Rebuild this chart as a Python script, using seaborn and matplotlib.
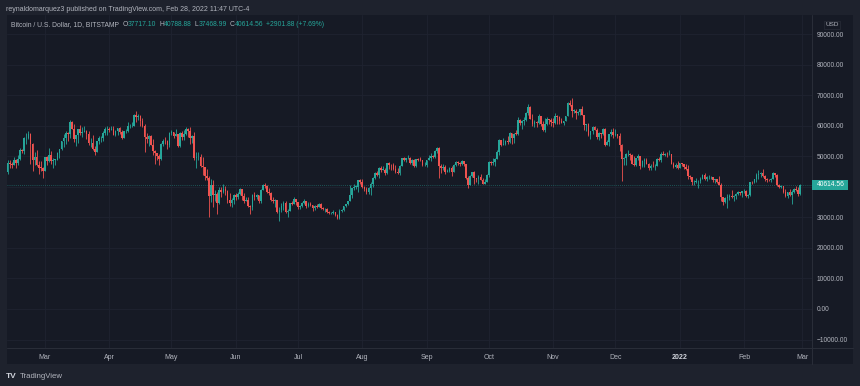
import numpy as np
import pandas as pd
import matplotlib
matplotlib.use("Agg")
import matplotlib.pyplot as plt
import matplotlib.dates as mdates
from matplotlib.patches import Rectangle
from matplotlib.lines import Line2D
import seaborn as sns

# daily candles, each row is (high, low, close); open is the previous close
feb21 = [(48600, 44100, 47900), (48900, 46300, 47400), (48200, 46200, 47200), (49700, 47000, 48600),
         (49000, 46300, 47900), (50500, 47100, 49100), (52600, 48900, 52100), (52500, 50900, 51600),
         (56300, 50700, 55900), (57500, 54000, 55900), (58300, 55500, 57400), (57500, 47600, 54100),
         (54200, 45000, 48900), (51300, 47100, 49700), (52000, 46700, 47000), (48300, 44100, 46300),
         (48300, 45000, 46200), (46600, 43000, 45100)]
mar21 = [(49800, 45000, 49600), (50200, 47000, 48400), (52600, 48100, 50400), (51800, 47500, 48400),
         (49400, 46300, 48800), (49200, 47100, 48900), (51400, 48800, 51000), (52400, 49300, 52300),
         (54900, 51900, 54900), (57400, 53000, 55900), (58100, 53900, 57500), (58000, 54900, 57200),
         (61700, 56100, 61200), (61400, 58900, 59000), (60600, 54600, 55600), (56900, 53400, 56900),
         (58900, 54200, 58900), (60100, 57000, 57700), (59500, 56300, 58000), (59900, 57800, 58100),
         (58500, 55500, 57400), (58400, 53700, 54200), (55800, 53100, 54300), (57100, 52000, 52300),
         (53200, 50400, 51300), (55100, 51300, 55000), (56600, 53900, 55800), (56500, 54700, 55800),
         (58400, 54900, 57600), (59400, 57000, 58800), (59800, 56800, 58800)]
apr21 = [(59500, 57900, 58700), (60000, 58500, 59000), (59800, 57000, 57100), (58500, 56500, 58200),
         (59300, 56800, 59100), (59500, 57400, 58000), (58700, 55500, 56000), (58200, 55900, 58100),
         (58900, 57700, 58100), (61200, 57900, 59800), (60700, 59300, 59900), (61200, 59400, 59900),
         (63800, 59900, 63600), (64900, 61300, 62900), (63800, 62000, 63200), (63500, 60000, 61400),
         (62500, 59700, 60000), (60400, 51500, 56200), (57600, 54200, 55700), (57000, 53500, 56500),
         (56800, 53600, 53800), (55500, 50500, 51700), (52100, 47500, 51200), (51200, 48700, 50100),
         (50600, 47000, 49100), (54400, 48800, 54000), (55500, 53300, 55000), (56400, 53900, 54900),
         (55200, 52400, 53600), (58000, 53000, 57700)]
may21 = [(58500, 57000, 57800), (57900, 56000, 56600), (58900, 56500, 57200), (57200, 53000, 53200),
         (57900, 52900, 57500), (58300, 55300, 56400), (58600, 55300, 57300), (59500, 56900, 58800),
         (59200, 56300, 58200), (59500, 54000, 55800), (56800, 54300, 56700), (58000, 48900, 49400),
         (51300, 46300, 49700), (51500, 48800, 49900), (50700, 46600, 46800), (49600, 43800, 46400),
         (46600, 42100, 43500), (45800, 42200, 42900), (43500, 30000, 37000), (42500, 35000, 40700),
         (42200, 33500, 37300), (38800, 35300, 37500), (38300, 31100, 34700), (39900, 34400, 38800),
         (39800, 36500, 38300), (40800, 37800, 39300), (40400, 37200, 38500), (38800, 34800, 35700),
         (37900, 33600, 34600), (36400, 33400, 35700), (37500, 34200, 37300)]
jun21 = [(37900, 35700, 36700), (38200, 35900, 37600), (39500, 37200, 39200), (39300, 35600, 36900),
         (37900, 34800, 35500), (36800, 35300, 35800), (36800, 33400, 33600), (34000, 31000, 33400),
         (37500, 32400, 37400), (38400, 35800, 36700), (37700, 35900, 37300), (37400, 34600, 35500),
         (39300, 34800, 39000), (41000, 38800, 40500), (41300, 39500, 40200), (40500, 38100, 38300),
         (39500, 37400, 38100), (38200, 35200, 35800), (36500, 34800, 35500), (36100, 33400, 35600),
         (35700, 31300, 31600), (33300, 28800, 32500), (34800, 31700, 33700), (35300, 32300, 34700),
         (35500, 31300, 31600), (32700, 30200, 32200), (34700, 32000, 34700), (35300, 33900, 34500),
         (36600, 34300, 35900), (36100, 34000, 35000)]
jul21 = [(35000, 32700, 33500), (33900, 32700, 33800), (34900, 33300, 34700), (35900, 34300, 35300),
         (35300, 33200, 33700), (35000, 33500, 34200), (35100, 33800, 33900), (33900, 32100, 32900),
         (34100, 32300, 33800), (34200, 33000, 33500), (34600, 33300, 34300), (34600, 32700, 33100),
         (33300, 32300, 32700), (33100, 31600, 32800), (33200, 31300, 31800), (32200, 31100, 31400),
         (31900, 31200, 31500), (32400, 31200, 31800), (31900, 30500, 30800), (31000, 29300, 29800),
         (32800, 29500, 32100), (32600, 31700, 32300), (33600, 32000, 33600), (34500, 33400, 34300),
         (35400, 33900, 35400), (40500, 35300, 37300), (39500, 36400, 39500), (40900, 38800, 40000),
         (40600, 39300, 40000), (42300, 38300, 42200), (42400, 41000, 41500)]
aug21 = [(42600, 39500, 39900), (40400, 38700, 39200), (39800, 37600, 38200), (39900, 37500, 39700),
         (41400, 37400, 40900), (43300, 39900, 42800), (44700, 42500, 44600), (45300, 43400, 43800),
         (46400, 42800, 46300), (46700, 44800, 45600), (46700, 45400, 45600), (46200, 43800, 44400),
         (47900, 44300, 47800), (48100, 45800, 47100), (47400, 45600, 47000), (47900, 45600, 45900),
         (47100, 44400, 44700), (46000, 44200, 44600), (47000, 43900, 46800), (49300, 46700, 49300),
         (49800, 48300, 48900), (49500, 48100, 49300), (50500, 49100, 49500), (49900, 47600, 47700),
         (49200, 47200, 48900), (49000, 46400, 46900), (49200, 46400, 49100), (49300, 48400, 48900),
         (49700, 48300, 48800), (48900, 46900, 47000), (48200, 46800, 47100)]
sep21 = [(48900, 46600, 48800), (50400, 48600, 49300), (51000, 48400, 50000), (50500, 49500, 49900),
         (51900, 49500, 51800), (52900, 50900, 52700), (52900, 43000, 46900), (47400, 44500, 46100),
         (47300, 45500, 46400), (47000, 44200, 44800), (45900, 44800, 45200), (46400, 44800, 46000),
         (46900, 43400, 44900), (47300, 44700, 47100), (48400, 46800, 48100), (48500, 47000, 47800),
         (48100, 46800, 47300), (48800, 47100, 48300), (48300, 46900, 47300), (47300, 42600, 43000),
         (43600, 39600, 40700), (44000, 40600, 43600), (44900, 43100, 44900), (45100, 40900, 42800),
         (42900, 41700, 42700), (43900, 40800, 43200), (44300, 42100, 42200), (42800, 40900, 41000),
         (42600, 40800, 41500), (44100, 41400, 43800)]
oct21 = [(48400, 43300, 48100), (48400, 47100, 47700), (49300, 47100, 48200), (49500, 46900, 49200),
         (51900, 49100, 51500), (55700, 50400, 55300), (55300, 53400, 53800), (56100, 53600, 53900),
         (55400, 53700, 54900), (56500, 54100, 54700), (57800, 54400, 57500), (57600, 53900, 56000),
         (57700, 54300, 57400), (58500, 56900, 57300), (62900, 56900, 61700), (62300, 60200, 60900),
         (61700, 58900, 61500), (62700, 60300, 62000), (64400, 61400, 64300), (67000, 63500, 66000),
         (66600, 62100, 62200), (63700, 60000, 60700), (61700, 59700, 61300), (61500, 59600, 60900),
         (63700, 60700, 63100), (63300, 59900, 60400), (61500, 58100, 58500), (62500, 57900, 60600),
         (62900, 60200, 62300), (62300, 60700, 61900), (62400, 59900, 61300)]
nov21 = [(62400, 59500, 61000), (64200, 60700, 63300), (63500, 60400, 62900), (63100, 60700, 61400),
         (62600, 60800, 61000), (61600, 60100, 61500), (63300, 61400, 63300), (67700, 63300, 67500),
         (68500, 66400, 66900), (69000, 63000, 64900), (65500, 64100, 64900), (65400, 62300, 64200),
         (64900, 63400, 64400), (65500, 63600, 65500), (66300, 63400, 63600), (63600, 58600, 60100),
         (60700, 58400, 60400), (60900, 56500, 56900), (58400, 55600, 58100), (59800, 57400, 59700),
         (60000, 58500, 58700), (59300, 55700, 56300), (57800, 55400, 57500), (57700, 55900, 57200),
         (59300, 57000, 58900), (59100, 53500, 53600), (55200, 53600, 54800), (57400, 53300, 57300),
         (58800, 56700, 57800), (59200, 56100, 57000)]
dec21 = [(59000, 56500, 57200), (57400, 55800, 56500), (57600, 51800, 53600), (53900, 42000, 49200),
         (49800, 47100, 49400), (51000, 47100, 50600), (51900, 50100, 50600), (51200, 48600, 50500),
         (50800, 47400, 47600), (50100, 46900, 47100), (49500, 46800, 49400), (50800, 48700, 50100),
         (50200, 45700, 46700), (48700, 46500, 48400), (49500, 46600, 48900), (49400, 47500, 47600),
         (47900, 45500, 46200), (47400, 45600, 46800), (48300, 46500, 46700), (47600, 45600, 46900),
         (49300, 46700, 49000), (49600, 48500, 48600), (51300, 48200, 50800), (51800, 50400, 50400),
         (51200, 50200, 50800), (51300, 49600, 50700), (52100, 50500, 50700), (50700, 47400, 47500),
         (48100, 46200, 46400), (47900, 46000, 47100), (48500, 45700, 46200)]
jan22 = [(47900, 46200, 47700), (47900, 46700, 47300), (47500, 45700, 46400), (47500, 45500, 45800),
         (47000, 42600, 43400), (43700, 42500, 43100), (43100, 40700, 41500), (42300, 40600, 41700),
         (42800, 41200, 41800), (42200, 39700, 41800), (43100, 41300, 42700), (44300, 42500, 43900),
         (44400, 42300, 42600), (43400, 41800, 43100), (43800, 42600, 43100), (43500, 42600, 43100),
         (43200, 41600, 42200), (42700, 41300, 42400), (42500, 41100, 41700), (43500, 40600, 40700),
         (41100, 35500, 36500), (36800, 34000, 35100), (36500, 34600, 36300), (37500, 32900, 36700),
         (37500, 35700, 36900), (38900, 36200, 36800), (37200, 35500, 37100), (38000, 36100, 37700),
         (38700, 37300, 38200), (38300, 37400, 37900), (38700, 36700, 38500)]
feb22 = [(39200, 38000, 38700), (38900, 36600, 36900), (37500, 36300, 37300), (41700, 37000, 41600),
         (41900, 40900, 41400), (42600, 41100, 42400), (44400, 41700, 43800), (45400, 42700, 44100),
         (44800, 43200, 44400), (45800, 43200, 43600), (43900, 42000, 42400), (43000, 41700, 42200),
         (42700, 41900, 42100), (42800, 41600, 42600), (44700, 42400, 44600), (44600, 43300, 43900),
         (44200, 40100, 40600), (40900, 39500, 40000), (40500, 39600, 40100), (40200, 38000, 38400),
         (39400, 36800, 37100), (38400, 36400, 38300), (39200, 37100, 37300), (38900, 34300, 38400),
         (39700, 38000, 39200), (40200, 38600, 39100), (39800, 37000, 37712.68),
         (40788.88, 37468.99, 40614.56)]
first_open = 44800
last_open = 37717.10

month_ticks = ["2021-03-01", "2021-04-01", "2021-05-01", "2021-06-01", "2021-07-01", "2021-08-01",
               "2021-09-01", "2021-10-01", "2021-11-01", "2021-12-01", "2022-01-01", "2022-02-01",
               "2022-03-01"]
month_labels = ["Mar", "Apr", "May", "Jun", "Jul", "Aug", "Sep", "Oct", "Nov", "Dec", "2022", "Feb", "Mar"]
price_ticks = [-10000, 0, 10000, 20000, 30000, 40000, 50000, 60000, 70000, 80000, 90000]

rows = feb21 + mar21 + apr21 + may21 + jun21 + jul21 + aug21 + sep21 + oct21 + nov21 + dec21 + jan22 + feb22
df = pd.DataFrame(rows, columns=["high", "low", "close"])
df["date"] = pd.date_range("2021-02-11", periods=len(df), freq="D")
df["open"] = [first_open] + df["close"].tolist()[:-1]
df.loc[df.index[-1], "open"] = last_open
last = df.iloc[-1]
prev_close = df["close"].iloc[-2]

UP, DOWN = "#26a69a", "#ef5350"
OUTER, PANEL, GRID, BORDER, TXT = "#1e222d", "#161a25", "#1f2330", "#2a2e39", "#b2b5be"

sns.set_theme(style="dark", rc={"axes.facecolor": PANEL, "figure.facecolor": OUTER})
plt.rcParams["font.family"] = ["Liberation Sans", "DejaVu Sans"]

W, H = 860, 386
fig = plt.figure(figsize=(W / 100, H / 100), dpi=100)
fig.patches.append(Rectangle((7 / W, 22 / H), 846 / W, 349 / H, transform=fig.transFigure,
                             facecolor=PANEL, edgecolor="none", zorder=-10))
ax = fig.add_axes([7 / W, 38 / H, 805 / W, 333 / H])
ax.set_zorder(2)

x = mdates.date2num(df["date"])
is_up = df["close"] >= df["open"]
cols = np.where(is_up, UP, DOWN)
body_lo = np.minimum(df["open"], df["close"])
body_h = np.maximum(np.abs(df["close"] - df["open"]), 150)
ax.vlines(x, df["low"], df["high"], colors=cols, linewidth=0.6, zorder=3)
ax.bar(x, body_h, bottom=body_lo, width=0.8, color=cols, linewidth=0, zorder=4)

ax.axhline(last["close"], color=UP, alpha=0.55, linewidth=0.6, linestyle=(0, (1, 1.5)), zorder=2)

x0 = mdates.date2num(pd.Timestamp("2021-03-01"))
x1 = mdates.date2num(pd.Timestamp("2022-03-01"))
ax.set_xlim(x0 - 18.3, x1 + 4.8)
ax.set_ylim(-12774, 96223)

ax.set_xticks(mdates.date2num(pd.to_datetime(month_ticks)))
ax.set_xticklabels(month_labels)
ax.set_yticks(price_ticks)
# the 40000 label sits under the last-price tag, so it is hidden like on the chart
ax.set_yticklabels(["" if v == 40000 else f"{v:.2f}".replace("-", "\u2212") for v in price_ticks])
ax.yaxis.tick_right()
ax.tick_params(axis="y", length=0, pad=3.6, labelsize=4.8, labelcolor=TXT)
ax.tick_params(axis="x", length=0, pad=4.2, labelsize=5, labelcolor=TXT)
for lab in ax.get_xticklabels():
    if lab.get_text() == "2022":
        lab.set_fontweight("bold")
        lab.set_color("#d1d4dc")
ax.grid(True, color=GRID, linewidth=0.6)
for s in ax.spines.values():
    s.set_visible(False)

# borders of price and time scales
fig.add_artist(Line2D([812 / W, 812 / W], [22 / H, 371 / H], color=BORDER, linewidth=0.7))
fig.add_artist(Line2D([7 / W, 853 / W], [38 / H, 38 / H], color=BORDER, linewidth=0.7))

# last price tag
ax.add_patch(Rectangle((1.0, last["close"] - 1600), 36 / 805, 3250, transform=ax.get_yaxis_transform(),
                       facecolor=UP, edgecolor="none", clip_on=False, zorder=5))
ax.text(1.0 + 5 / 805, last["close"], f"{last['close']:.2f}", transform=ax.get_yaxis_transform(),
        ha="left", va="center", fontsize=4.8, color="white", clip_on=False, zorder=6)
fig.text(832 / W, 1 - 25 / H, "USD", ha="center", va="center", fontsize=4.6, color=TXT,
         bbox=dict(boxstyle="square,pad=0.25", facecolor=PANEL, edgecolor=BORDER, linewidth=0.5))

# header
fig.text(6 / W, 1 - 9.5 / H, "reynaldomarquez3 published on TradingView.com, Feb 28, 2022 11:47 UTC-4",
         ha="left", va="center", fontsize=5, color=TXT)
change = last["close"] - prev_close
legend_parts = [("Bitcoin / U.S. Dollar, 1D, BITSTAMP", TXT, 3.5), ("O", TXT, 0),
                (f"{last['open']:.2f}", UP, 3), ("H", TXT, 0), (f"{last['high']:.2f}", UP, 3),
                ("L", TXT, 0), (f"{last['low']:.2f}", UP, 3), ("C", TXT, 0),
                (f"{last['close']:.2f}", UP, 3),
                (f"+{change:.2f} (+{change / prev_close * 100:.2f}%)", UP, 0)]
renderer = fig.canvas.get_renderer()
px = 11
for txt, c, gap in legend_parts:
    t = fig.text(px / W, 1 - 25 / H, txt, ha="left", va="center", fontsize=4.9, color=c)
    px = t.get_window_extent(renderer).x1 + gap

# footer logo
fig.text(6 / W, 1 - 376 / H, "TV", ha="left", va="center", fontsize=6, fontweight="bold", color="#d1d4dc")
fig.text(20 / W, 1 - 376 / H, "TradingView", ha="left", va="center", fontsize=5.6, color=TXT)

fig.savefig("out.png", dpi=100, facecolor=OUTER)
